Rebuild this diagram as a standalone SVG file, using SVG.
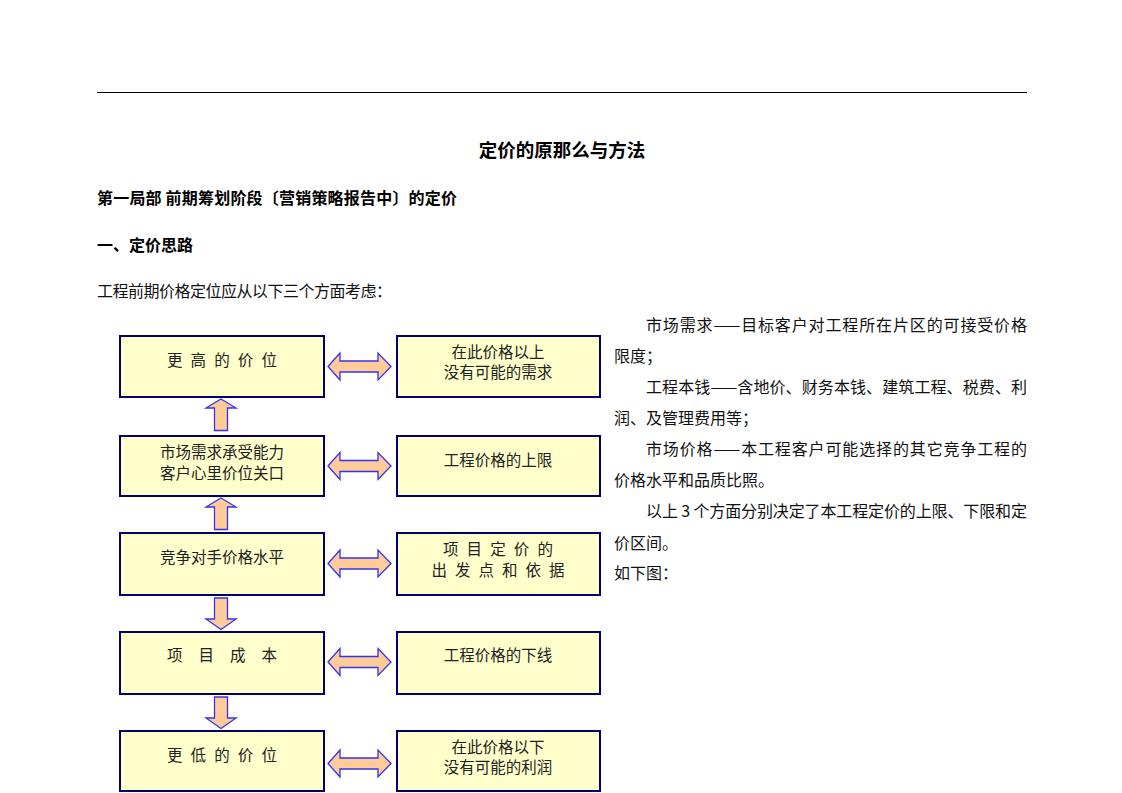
<svg xmlns="http://www.w3.org/2000/svg" width="1122" height="793" viewBox="0 0 1122 793">
<style>
  .bg{fill:#ffffff}
  .box{fill:#ffffcc;stroke:#000066;stroke-width:2}
  .arr{fill:#ffcc99;stroke:#3333ee;stroke-width:1.3;stroke-linejoin:miter}
  .t{font-family:"Noto Sans CJK SC","Noto Sans",sans-serif;fill:#000}
  .bt{font-size:15.5px;fill:#222;text-anchor:middle}
  .h1{font-size:18.5px;font-weight:bold;text-anchor:middle}
  .h2{font-size:16px;font-weight:bold}
  .p{font-size:16px;fill:#111}
</style>
<defs>
  <path id="dbl" d="M0,0 L12,-13.5 L12,-5.5 L50,-5.5 L50,-13.5 L63,0 L50,13.5 L50,5.5 L12,5.5 L12,13.5 Z"/>
</defs>
<rect class="bg" x="0" y="0" width="1122" height="793"/>
<line x1="97" y1="92.5" x2="1027" y2="92.5" stroke="#000" stroke-width="1.2"/>

<g id="header">
  <text class="t h1" x="562" y="156.5">定价的原那么与方法</text>
  <text class="t h2" x="97" y="204" textLength="360" lengthAdjust="spacing">第一局部  前期筹划阶段〔营销策略报告中〕的定价</text>
  <text class="t h2" x="97" y="251">一、定价思路</text>
  <text class="t p" x="97" y="297" textLength="295" lengthAdjust="spacing">工程前期价格定位应从以下三个方面考虑：</text>
</g>

<g id="explanation">
  <text class="t p" x="646" y="331" textLength="381" lengthAdjust="spacing">市场需求——目标客户对工程所在片区的可接受价格</text>
  <text class="t p" x="614" y="362">限度；</text>
  <text class="t p" x="646" y="392.5" textLength="381" lengthAdjust="spacing">工程本钱——含地价、财务本钱、建筑工程、税费、利</text>
  <text class="t p" x="614" y="424">润、及管理费用等；</text>
  <text class="t p" x="646" y="455" textLength="381" lengthAdjust="spacing">市场价格——本工程客户可能选择的其它竞争工程的</text>
  <text class="t p" x="614" y="486">价格水平和品质比照。</text>
  <text class="t p" x="646" y="517" textLength="381" lengthAdjust="spacing">以上 3 个方面分别决定了本工程定价的上限、下限和定</text>
  <text class="t p" x="614" y="548.5">价区间。</text>
  <text class="t p" x="614" y="579">如下图：</text>
</g>

<g id="connectors">
  <use href="#dbl" class="arr" x="328" y="366.5"/>
  <use href="#dbl" class="arr" x="328" y="466"/>
  <use href="#dbl" class="arr" x="328" y="563.5"/>
  <use href="#dbl" class="arr" x="328" y="662"/>
  <use href="#dbl" class="arr" x="328" y="763.5"/>
  <path class="arr" d="M221,399 L236,408 L227.5,408 L227.5,430.5 L214.5,430.5 L214.5,408 L206,408 Z"/>
  <path class="arr" d="M221,498 L236,507 L227.5,507 L227.5,529.5 L214.5,529.5 L214.5,507 L206,507 Z"/>
  <path class="arr" d="M214.5,598 L227.5,598 L227.5,619 L236,619 L221,629.5 L206,619 L214.5,619 Z"/>
  <path class="arr" d="M214.5,697 L227.5,697 L227.5,718 L236,718 L221,728.5 L206,718 L214.5,718 Z"/>
</g>

<g id="node-higher">
  <rect class="box" x="120" y="336" width="204" height="61"/>
  <text class="t bt" x="222" y="365.5" textLength="110" lengthAdjust="spacing">更 高 的 价 位</text>
</g>
<g id="node-no-demand">
  <rect class="box" x="397" y="336" width="203" height="61"/>
  <text class="t bt" x="498" y="358">在此价格以上</text>
  <text class="t bt" x="498" y="378">没有可能的需求</text>
</g>
<g id="node-market">
  <rect class="box" x="120" y="436" width="204" height="60"/>
  <text class="t bt" x="222" y="458">市场需求承受能力</text>
  <text class="t bt" x="222" y="479">客户心里价位关口</text>
</g>
<g id="node-upper">
  <rect class="box" x="397" y="436" width="203" height="60"/>
  <text class="t bt" x="498" y="465.5">工程价格的上限</text>
</g>
<g id="node-competitor">
  <rect class="box" x="120" y="533" width="204" height="62"/>
  <text class="t bt" x="222" y="563">竞争对手价格水平</text>
</g>
<g id="node-basis">
  <rect class="box" x="397" y="533" width="203" height="62"/>
  <text class="t bt" x="498" y="555" textLength="110" lengthAdjust="spacing">项 目 定 价 的</text>
  <text class="t bt" x="498" y="575.5" textLength="133" lengthAdjust="spacing">出 发 点 和 依 据</text>
</g>
<g id="node-cost">
  <rect class="box" x="120" y="632" width="204" height="62"/>
  <text class="t bt" x="222" y="661" textLength="110" lengthAdjust="spacing">项 目 成 本</text>
</g>
<g id="node-lower">
  <rect class="box" x="397" y="632" width="203" height="62"/>
  <text class="t bt" x="498" y="661">工程价格的下线</text>
</g>
<g id="node-lowest">
  <rect class="box" x="120" y="731" width="204" height="60"/>
  <text class="t bt" x="222" y="761" textLength="110" lengthAdjust="spacing">更 低 的 价 位</text>
</g>
<g id="node-no-profit">
  <rect class="box" x="397" y="731" width="203" height="60"/>
  <text class="t bt" x="498" y="753">在此价格以下</text>
  <text class="t bt" x="498" y="773">没有可能的利润</text>
</g>
</svg>
